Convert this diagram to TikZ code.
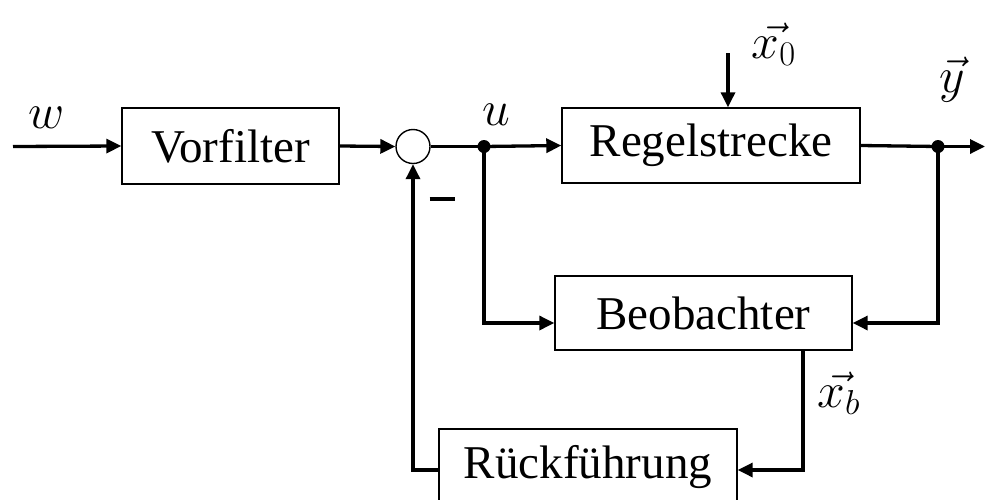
\documentclass[tikz,border=0pt]{standalone}
\usepackage{fontspec}
\setmainfont{Liberation Serif}
\usetikzlibrary{arrows.meta,calc}
\begin{document}
\begin{tikzpicture}[x=0.5pt,y=-0.5pt,
  blockbox/.style={draw,line width=0.7pt,rectangle,inner sep=0pt,font=\fontsize{23.5}{28}\selectfont},
  sig/.style={line width=1.65pt,-{Triangle[length=7.5pt,width=7pt]}},
  wire/.style={line width=1.65pt},
  junct/.style={circle,fill,inner sep=0pt,minimum size=6.5pt},
  lbl/.style={inner sep=0pt,font=\fontsize{24}{28}\selectfont}]
\useasboundingbox (0,0) rectangle (985,499);
\clip (0,0) rectangle (985,499);
% blocks
\node[blockbox,minimum width=108.5pt,minimum height=38pt] (vf) at (230.5,146) {Vorfilter};
\node[blockbox,minimum width=149pt,minimum height=37.5pt] (rs) at (711,145.5) {Regelstrecke};
\node[blockbox,minimum width=148.5pt,minimum height=37pt] (bo) at (703.5,313) {Beobachter};
\node[blockbox,minimum width=149pt,minimum height=38pt] (rf) at (588,467) {Rückführung};
\node[draw,circle,line width=0.7pt,inner sep=0pt,minimum size=17pt] (sum) at (413,146.5) {};
\node[junct] (ud) at (484,146.5) {};
\node[junct] (yd) at (938,146.5) {};
\coordinate (win) at (13,146.5);
\coordinate (yout) at (985,146.5);
\coordinate (x0s) at (728,53);
% labels
\node[lbl] (lw) at (47,118) {$w$};
\node[lbl] (lu) at (496,115) {$u$};
\node[lbl] (lx0) at (774,44) {$\vec{x_0}$};
\node[lbl] (ly) at (952,80) {$\vec{y}$};
\node[lbl] (lxb) at (839,393) {$\vec{x_b}$};
\node[inner sep=0pt] (lm) at (442,199) {\rule{12.5pt}{1.6pt}};
% connectors
\draw[sig] (win) -- (vf.west);
\draw[sig] (vf.east) -- (sum.west);
\draw[wire] (sum.east) -- (ud.center);
\draw[sig] (ud.center) -- (rs.west);
\draw[wire] (rs.east) -- (yd.center);
\draw[sig] (yd.center) -- (yout);
\draw[sig] (x0s) -- (x0s |- rs.north);
\draw[sig] (ud.center) |- ([yshift=-5pt]bo.west);
\draw[sig] (yd.center) |- ([yshift=-5pt]bo.east);
\draw[sig] ([xshift=49.75pt]bo.south) |- ([yshift=-1.5pt]rf.east);
\draw[sig] ([yshift=-1.5pt]rf.west) -| (sum.south);
\end{tikzpicture}
\end{document}
